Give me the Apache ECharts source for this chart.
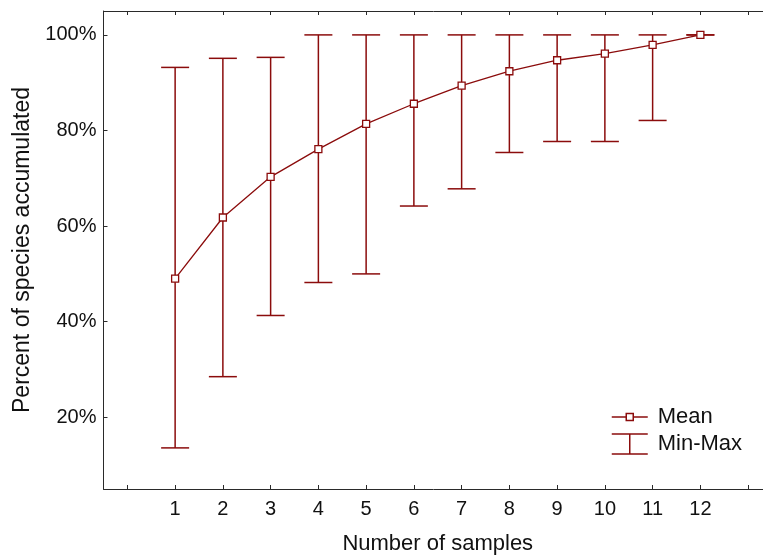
<!DOCTYPE html>
<html>
<head>
<meta charset="utf-8">
<script src="https://cdn.jsdelivr.net/npm/echarts@6/dist/echarts.min.js"></script>
<style>html,body{margin:0;padding:0;background:#fff}#c{width:763px;height:555px}</style>
</head>
<body>
<div id="c"></div>
<script>
var samples = [1, 2, 3, 4, 5, 6, 7, 8, 9, 10, 11, 12];
var meanVals = [49.0, 61.8, 70.3, 76.1, 81.4, 85.6, 89.4, 92.4, 94.7, 96.1, 97.9, 100];
var minVals = [13.6, 28.5, 41.3, 48.2, 50.0, 64.2, 67.8, 75.4, 77.7, 77.7, 82.1, 100];
var maxVals = [93.2, 95.1, 95.3, 100, 100, 100, 100, 100, 100, 100, 100, 100];
var xTickValues = [0, 1, 2, 3, 4, 5, 6, 7, 8, 9, 10, 11, 12, 13];
var yTickValues = [20, 40, 60, 80, 100];

var RED = '#8b0c0c';
var FONT = '"Liberation Sans", Arial, sans-serif';

var meanData = samples.map(function (s, i) { return [s, meanVals[i]]; });
var barData = samples.map(function (s, i) { return [s, minVals[i], maxVals[i]]; });

var chart = echarts.init(document.getElementById('c'), null, { renderer: 'canvas' });

function axisCommon(extra) {
  return Object.assign({
    axisLine: { show: true, onZero: false, lineStyle: { color: '#2a2a2a', width: 1 } },
    splitLine: { show: false }
  }, extra);
}

chart.setOption({
  animation: false,
  backgroundColor: '#fff',
  textStyle: { fontFamily: FONT },
  grid: { left: 103.5, top: 11, width: 668.5, height: 478, containLabel: false, outerBoundsMode: 'none' },
  legend: {
    orient: 'vertical',
    left: 606,
    top: 401,
    itemWidth: 36,
    itemHeight: 20,
    itemGap: 5,
    textStyle: { fontFamily: FONT, fontSize: 22, color: '#111', padding: [0, 0, 0, 5] },
    data: [
      {
        name: 'Mean',
        icon: 'path://M0,0 M36,20 M0,10 L14.5,10 M21.5,10 L36,10 M14.5,6.5 L21.5,6.5 L21.5,13.5 L14.5,13.5 Z',
        itemStyle: { color: '#fff', borderColor: RED, borderWidth: 1.5 }
      },
      {
        name: 'Min-Max',
        icon: 'path://M0,0 L36,0 M18,0 L18,20 M0,20 L36,20',
        itemStyle: { color: '#fff', borderColor: RED, borderWidth: 1.5 }
      }
    ]
  },
  xAxis: [
    axisCommon({
      type: 'value', position: 'bottom', min: -0.5, max: 13.5,
      name: 'Number of samples', nameLocation: 'middle', nameGap: 44,
      nameTextStyle: { fontFamily: FONT, fontSize: 22, color: '#111' },
      axisTick: { show: true, inside: true, length: 4, customValues: xTickValues, lineStyle: { color: '#2a2a2a' } },
      axisLabel: { show: true, customValues: samples, margin: 10, fontFamily: FONT, fontSize: 20, color: '#111' }
    }),
    axisCommon({
      type: 'value', position: 'top', min: -0.5, max: 13.5,
      axisTick: { show: true, inside: true, length: 4, customValues: xTickValues, lineStyle: { color: '#2a2a2a' } },
      axisLabel: { show: false }
    })
  ],
  yAxis: [
    axisCommon({
      type: 'value', min: 5, max: 105,
      name: 'Percent of species accumulated', nameLocation: 'middle', nameGap: 68,
      nameTextStyle: { fontFamily: FONT, fontSize: 23, color: '#111' },
      axisTick: { show: true, inside: true, length: 4, customValues: yTickValues, lineStyle: { color: '#2a2a2a' } },
      axisLabel: { show: true, customValues: yTickValues, margin: 7, formatter: '{value}%', fontFamily: FONT, fontSize: 20, color: '#111' }
    })
  ],
  series: [
    {
      name: 'Min-Max',
      type: 'custom',
      xAxisIndex: 0,
      yAxisIndex: 0,
      z: 2,
      itemStyle: { color: RED },
      renderItem: function (params, api) {
        var x = api.value(0);
        var lo = api.coord([x, api.value(1)]);
        var hi = api.coord([x, api.value(2)]);
        var hw = 14;
        var style = { stroke: RED, lineWidth: 1.5, fill: null };
        return {
          type: 'group',
          children: [
            { type: 'line', shape: { x1: lo[0], y1: lo[1], x2: hi[0], y2: hi[1] }, style: style },
            { type: 'line', shape: { x1: hi[0] - hw, y1: hi[1], x2: hi[0] + hw, y2: hi[1] }, style: style },
            { type: 'line', shape: { x1: lo[0] - hw, y1: lo[1], x2: lo[0] + hw, y2: lo[1] }, style: style }
          ]
        };
      },
      encode: { x: 0, y: [1, 2] },
      data: barData
    },
    {
      name: 'Mean',
      type: 'line',
      xAxisIndex: 0,
      yAxisIndex: 0,
      z: 3,
      symbol: 'rect',
      symbolSize: 7,
      showAllSymbol: true,
      lineStyle: { color: RED, width: 1.3 },
      itemStyle: { color: '#fff', borderColor: RED, borderWidth: 1.3 },
      data: meanData
    }
  ]
});
</script>
</body>
</html>
